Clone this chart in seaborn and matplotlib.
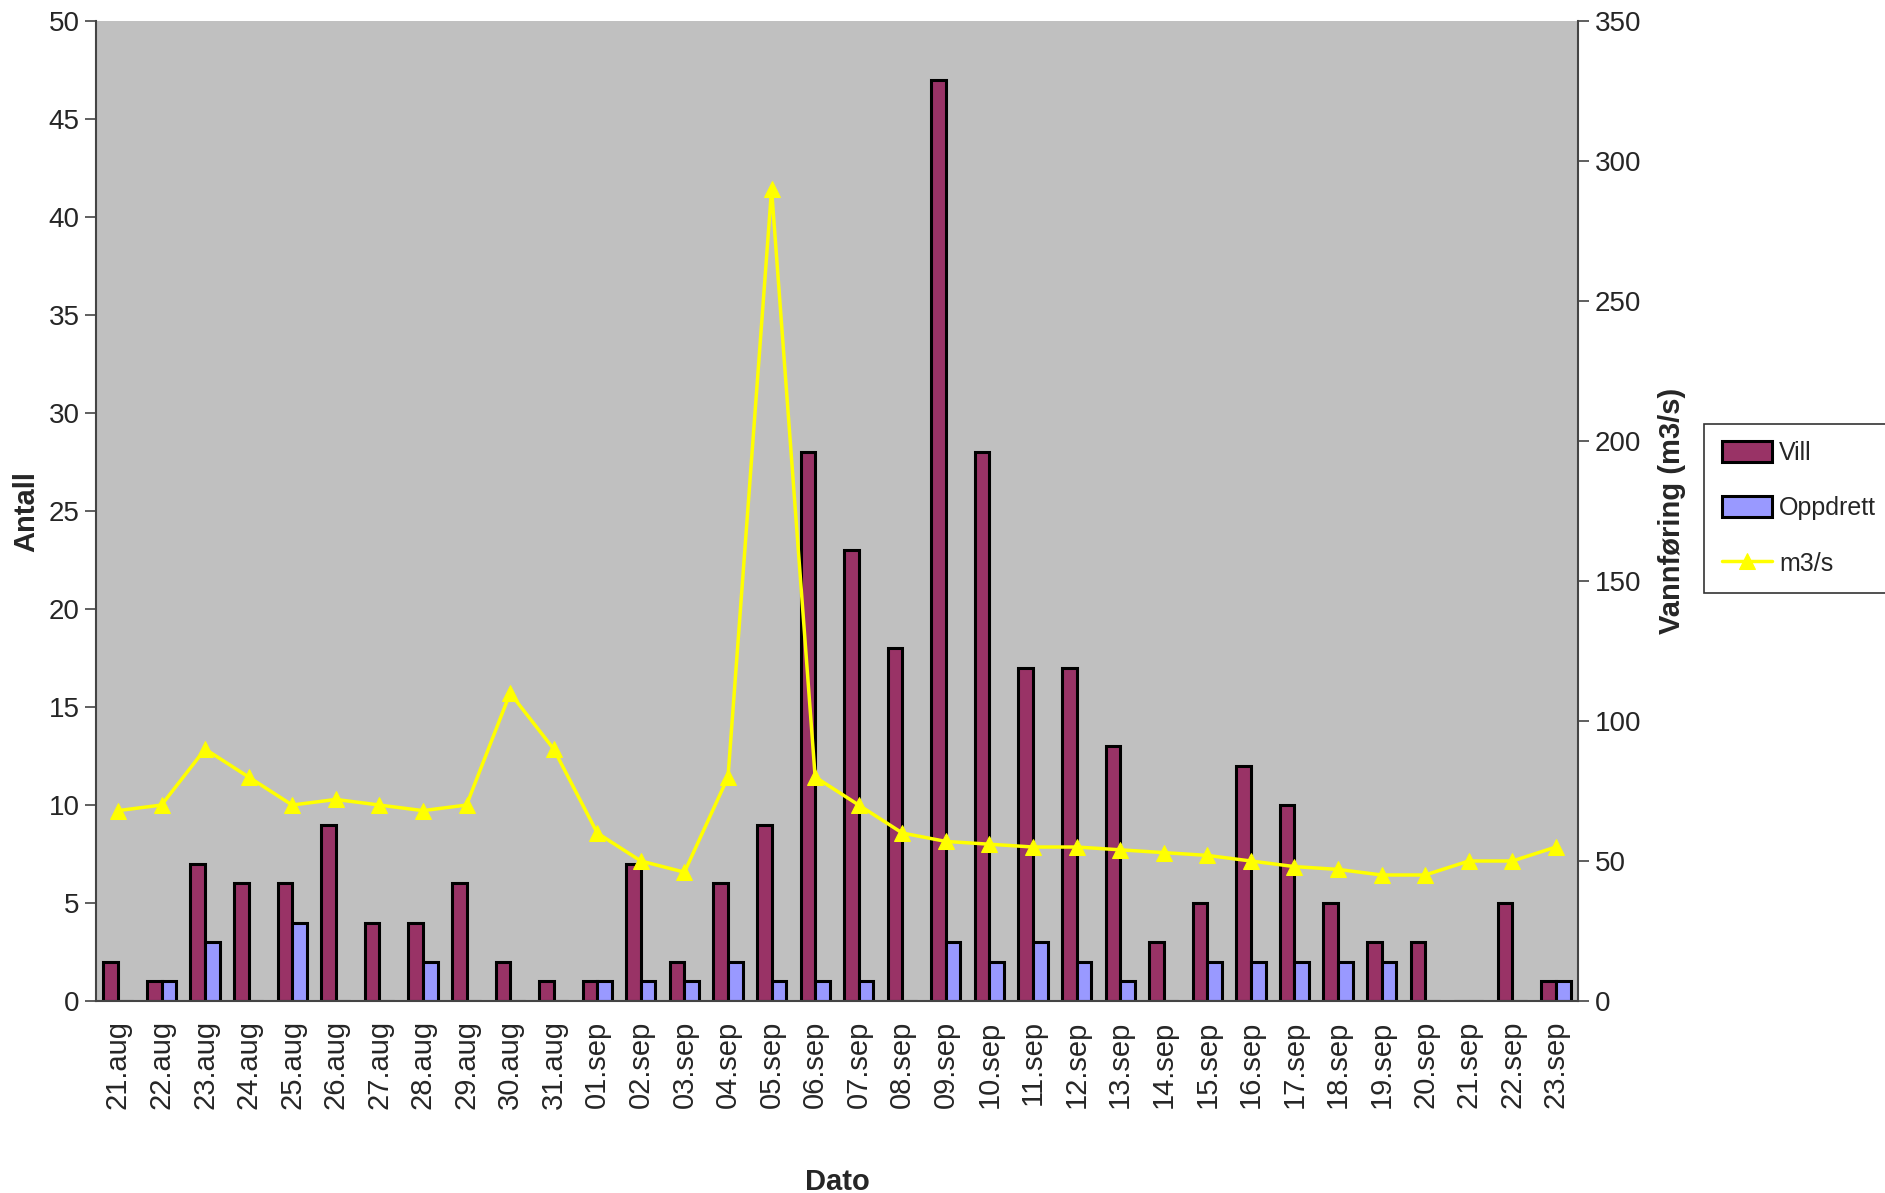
import numpy as np
import pandas as pd
import seaborn as sns
import matplotlib.pyplot as plt

dates = ["21.aug", "22.aug", "23.aug", "24.aug", "25.aug", "26.aug", "27.aug",
         "28.aug", "29.aug", "30.aug", "31.aug", "01.sep", "02.sep", "03.sep",
         "04.sep", "05.sep", "06.sep", "07.sep", "08.sep", "09.sep", "10.sep",
         "11.sep", "12.sep", "13.sep", "14.sep", "15.sep", "16.sep", "17.sep",
         "18.sep", "19.sep", "20.sep", "21.sep", "22.sep", "23.sep"]
vill = [2, 1, 7, 6, 6, 9, 4, 4, 6, 2, 1, 1, 7, 2, 6, 9, 28, 23, 18, 47, 28,
        17, 17, 13, 3, 5, 12, 10, 5, 3, 3, 0, 5, 1]
oppdrett = [0, 1, 3, 0, 4, 0, 0, 2, 0, 0, 0, 1, 1, 1, 2, 1, 1, 1, 0, 3, 2,
            3, 2, 1, 0, 2, 2, 2, 2, 2, 0, 0, 0, 1]
flow = [68, 70, 90, 80, 70, 72, 70, 68, 70, 110, 90, 60, 50, 46, 80, 290, 80,
        70, 60, 57, 56, 55, 55, 54, 53, 52, 50, 48, 47, 45, 45, 50, 50, 55]

sns.set_style("white")
plt.rcParams["font.family"] = ["Liberation Sans Narrow", "Liberation Sans", "DejaVu Sans"]

df = pd.DataFrame({
    "Dato": dates * 2,
    "Antall": vill + oppdrett,
    "Type": ["Vill"] * len(dates) + ["Oppdrett"] * len(dates),
})

fig = plt.figure(figsize=(18.85, 11.93), dpi=100)
ax = fig.add_axes([0.051, 0.161, 0.786, 0.821])
ax.set_facecolor("#C0C0C0")

sns.barplot(data=df, x="Dato", y="Antall", hue="Type", ax=ax,
            palette={"Vill": "#993366", "Oppdrett": "#9999FF"},
            width=0.67, edgecolor="black", linewidth=2.2, saturation=1)
ax.get_legend().remove()

n = len(dates)
ax.set_xlim(-0.5, n - 0.5)
ax.set_ylim(0, 50)
ax.set_yticks(np.arange(0, 51, 5))
ax.set_xticks(np.arange(n + 1) - 0.5, labels=[""] * (n + 1))
ax.set_xticks(np.arange(n), labels=dates, minor=True)
ax.tick_params(axis="x", which="major", length=14, width=1.2, color="#444444", direction="out")
ax.tick_params(axis="x", which="minor", length=0, rotation=90, labelsize=21, pad=14)
ax.tick_params(axis="y", length=8, width=1.2, color="#444444", labelsize=20, left=True, pad=4)
ax.set_xlabel("Dato", fontsize=21, fontweight="bold", labelpad=42)
ax.set_ylabel("Antall", fontsize=21, fontweight="bold", labelpad=6)
for s in ["left", "bottom"]:
    ax.spines[s].set_color("#444444")
    ax.spines[s].set_linewidth(1.5)
ax.spines["top"].set_visible(False)
ax.spines["right"].set_visible(False)

ax2 = ax.twinx()
sns.lineplot(x=np.arange(n), y=flow, ax=ax2, color="#FFFF00", linewidth=2.5,
             marker="^", markersize=12, markeredgecolor="#FFFF00", label="m3/s")
ax2.get_legend().remove()
ax2.set_ylim(0, 350)
ax2.set_yticks(np.arange(0, 351, 50))
ax2.tick_params(axis="y", length=8, width=1.2, color="#444444", labelsize=20, right=True, pad=4)
ax2.set_ylabel("Vannføring (m3/s)", fontsize=21, fontweight="bold", labelpad=12)
for s in ["top", "left", "bottom"]:
    ax2.spines[s].set_visible(False)
ax2.spines["right"].set_color("#444444")
ax2.spines["right"].set_linewidth(1.5)

h1, l1 = ax.get_legend_handles_labels()
h2, l2 = ax2.get_legend_handles_labels()
leg = fig.legend(h1 + h2, l1 + l2, loc="upper left", bbox_to_anchor=(0.904, 0.645),
                 fontsize=18, frameon=True, fancybox=False, edgecolor="black",
                 handlelength=2.0, handleheight=0.9, labelspacing=1.25, borderpad=0.7,
                 handletextpad=0.3, borderaxespad=0)
leg.get_frame().set_linewidth(1.2)

fig.savefig("out.png", dpi=100, facecolor="white")
